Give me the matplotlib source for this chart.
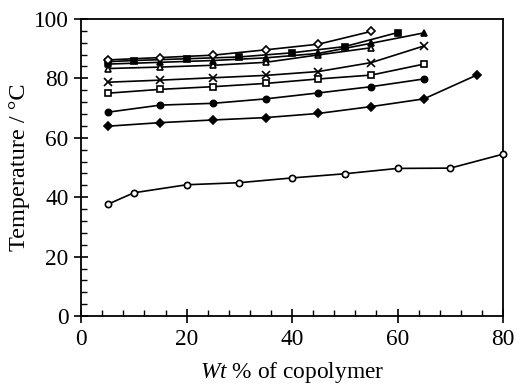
import matplotlib
matplotlib.use("Agg")
import matplotlib.pyplot as plt
from matplotlib.ticker import MultipleLocator

plt.rcParams['font.family'] = ['Liberation Serif', 'DejaVu Serif']
plt.rcParams['mathtext.fontset'] = 'custom'
plt.rcParams['mathtext.it'] = 'Liberation Serif:italic'
plt.rcParams['mathtext.rm'] = 'Liberation Serif'

# series: open diamonds (top)
x_od = [5, 15, 25, 35, 45, 55]
y_od = [86.2, 87.0, 87.8, 89.6, 91.5, 95.8]
# filled squares
x_fs = [5, 10, 20, 30, 40, 50, 60]
y_fs = [85.6, 86.0, 86.6, 87.2, 88.6, 90.7, 95.4]
# filled triangles
x_ft = [5, 15, 25, 35, 45, 55, 65]
y_ft = [84.8, 85.4, 86.0, 86.9, 88.4, 91.8, 95.3]
# open triangles
x_ot = [5, 15, 25, 35, 45, 55]
y_ot = [83.3, 83.8, 84.4, 85.4, 87.9, 90.3]
# crosses
x_cr = [5, 15, 25, 35, 45, 55, 65]
y_cr = [78.7, 79.4, 80.2, 81.0, 82.3, 85.3, 90.9]
# open squares
x_os = [5, 15, 25, 35, 45, 55, 65]
y_os = [75.0, 76.3, 77.2, 78.3, 79.8, 81.1, 84.8]
# filled circles
x_fc = [5, 15, 25, 35, 45, 55, 65]
y_fc = [68.6, 71.0, 71.6, 73.1, 75.1, 77.2, 79.8]
# filled diamonds
x_fd = [5, 15, 25, 35, 45, 55, 65, 75]
y_fd = [63.9, 65.1, 66.0, 66.8, 68.2, 70.5, 73.1, 81.1]
# open circles
x_oc = [5, 10, 20, 30, 40, 50, 60, 70, 80]
y_oc = [37.6, 41.5, 44.2, 44.9, 46.5, 47.9, 49.7, 49.8, 54.5]

fig = plt.figure(figsize=(5.17, 3.86), dpi=100)
ax = fig.add_axes([0.157, 0.181, 0.816, 0.770])

lw = 1.2
ms = 4.5
series = [
    (x_oc, y_oc, 'o', 'white'),
    (x_fd, y_fd, 'D', 'black'),
    (x_fc, y_fc, 'o', 'black'),
    (x_os, y_os, 's', 'white'),
    (x_cr, y_cr, 'x', 'black'),
    (x_ot, y_ot, '^', 'white'),
    (x_ft, y_ft, '^', 'black'),
    (x_fs, y_fs, 's', 'black'),
    (x_od, y_od, 'D', 'white'),
]
for xs, ys, m, fc in series:
    size = ms if m != 'D' else ms * 0.85
    if m == 'x':
        size = ms * 1.4
    ax.plot(xs, ys, color='black', lw=lw, marker=m, markersize=size,
            markerfacecolor=fc, markeredgecolor='black', markeredgewidth=1.2,
            clip_on=False, zorder=3)

ax.set_xlim(0, 80)
ax.set_ylim(0, 100)
ax.xaxis.set_major_locator(MultipleLocator(20))
ax.yaxis.set_major_locator(MultipleLocator(20))
ax.xaxis.set_minor_locator(MultipleLocator(4))
ax.yaxis.set_minor_locator(MultipleLocator(4))
ax.tick_params(which='major', direction='inout', length=10, width=1.2, labelsize=16.8, pad=4)
ax.tick_params(which='minor', direction='in', length=4, width=1.0)
ax.tick_params(top=False, right=False, which='both')
for sp in ax.spines.values():
    sp.set_linewidth(1.3)

ax.set_xlabel(r'$\mathit{Wt}$ % of copolymer', fontsize=16.8)
ax.xaxis.set_label_coords(0.5, -0.148)
ax.set_ylabel('Temperature / °C', fontsize=17.5, labelpad=3)

fig.savefig('out.png', dpi=100)
